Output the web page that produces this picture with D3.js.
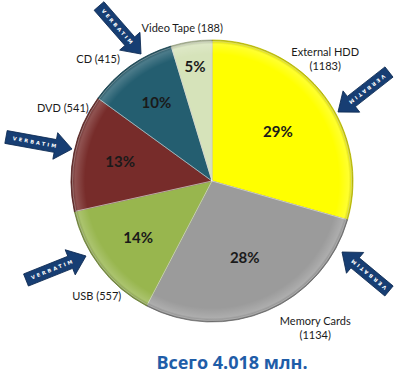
<!DOCTYPE html>
<html>
<head>
<meta charset="utf-8">
<script src="https://cdn.jsdelivr.net/npm/d3@7"></script>
<style>
  body { margin: 0; background: #fff; }
  svg { display: block; }
</style>
</head>
<body>
<svg id="chart"></svg>
<script>
// data (millions of units)
const categories = ["External HDD", "Memory Cards", "USB", "DVD", "CD", "Video Tape"];
const values = [1183, 1134, 557, 541, 415, 188];
const totalLabel = "Всего 4.018 млн.";
const colors = ["#ffff00", "#9b9b9b", "#98b64e", "#772c2a", "#245e70", "#d6e3ba"];

// where the outside labels sit: polar angle (deg, clockwise from top) and radius in px
const labelLayout = {
  "External HDD": { a: 43, r: 166, lines: ["External HDD", "(1183)"] },
  "Memory Cards": { a: 145, r: 180, lines: ["Memory Cards", "(1134)"] },
  "USB": { a: 225, r: 163, lines: ["USB (557)"] },
  "DVD": { a: 296, r: 166, lines: ["DVD (541)"] },
  "CD": { a: 317, r: 167, lines: ["CD (415)"] },
  "Video Tape": { a: 349, r: 156, lines: ["Video Tape (188)"] }
};

// decorative "VERBATIM" arrows, tail -> head
const arrows = [
  { x1: 99, y1: 6, x2: 141, y2: 54 },
  { x1: 389, y1: 72, x2: 338, y2: 112 },
  { x1: 6, y1: 137, x2: 72, y2: 149 },
  { x1: 26, y1: 280, x2: 86, y2: 256 },
  { x1: 389, y1: 291, x2: 342, y2: 252 }
];

const width = 400, height = 374;
const cx = 212, cy = 181, radius = 141;

const svg = d3.select("#chart")
  .attr("width", width)
  .attr("height", height);

const defs = svg.append("defs");

// soft bevel look: darker rim with a thin light band just inside it
const shine = defs.append("radialGradient")
  .attr("id", "shine")
  .attr("gradientUnits", "userSpaceOnUse")
  .attr("cx", cx).attr("cy", cy).attr("r", radius);
shine.append("stop").attr("offset", "0%").attr("stop-color", "#fff").attr("stop-opacity", 0);
shine.append("stop").attr("offset", "90%").attr("stop-color", "#fff").attr("stop-opacity", 0);
shine.append("stop").attr("offset", "97%").attr("stop-color", "#fff").attr("stop-opacity", 0.18);
shine.append("stop").attr("offset", "100%").attr("stop-color", "#000").attr("stop-opacity", 0.25);

const total = d3.sum(values);
const rows = categories.map((c, i) => ({ name: c, value: values[i], color: colors[i] }));

const pie = d3.pie()
  .sort(null)
  .value(d => d.value)
  .startAngle(0)
  .endAngle(2 * Math.PI);

const arc = d3.arc().innerRadius(0).outerRadius(radius);

const g = svg.append("g").attr("transform", `translate(${cx},${cy})`);
const arcs = pie(rows);

g.selectAll("path.slice")
  .data(arcs)
  .enter().append("path")
  .attr("class", "slice")
  .attr("d", arc)
  .attr("fill", d => d.data.color)
  .attr("stroke", d => d3.color(d.data.color).darker(0.8))
  .attr("stroke-width", 0.8);

// light bevel line along slice edges
g.selectAll("path.bevel")
  .data(arcs)
  .enter().append("path")
  .attr("class", "bevel")
  .attr("d", d3.arc().innerRadius(0).outerRadius(radius - 1.5))
  .attr("fill", "none")
  .attr("stroke", "#fff")
  .attr("stroke-opacity", 0.35)
  .attr("stroke-width", 1);

svg.append("circle")
  .attr("cx", cx).attr("cy", cy)
  .attr("r", radius)
  .attr("fill", "url(#shine)");

// percentage labels; small slices push their label further out
const labelRadius = d3.scaleLinear().domain([5, 10, 30]).range([0.82, 0.68, 0.58]);
g.selectAll("text.pct")
  .data(arcs)
  .enter().append("text")
  .attr("class", "pct")
  .each(function (d) {
    const pct = Math.round(d.value / total * 100);
    const mid = (d.startAngle + d.endAngle) / 2;
    const r = radius * labelRadius(pct);
    d3.select(this)
      .attr("x", Math.sin(mid) * r)
      .attr("y", -Math.cos(mid) * r)
      .text(pct + "%");
  })
  .attr("text-anchor", "middle")
  .attr("dy", "0.35em")
  .style("font-family", "Lato, 'Open Sans', sans-serif")
  .style("font-weight", "bold")
  .style("font-size", "15px")
  .style("fill", "#1a1a1a");

// category labels outside the pie
const outer = g.selectAll("text.cat")
  .data(arcs)
  .enter().append("text")
  .attr("class", "cat")
  .attr("text-anchor", "middle")
  .style("font-family", "Lato, 'Open Sans', sans-serif")
  .style("font-size", "11px")
  .style("fill", "#1a1a1a");

outer.each(function (d) {
  const lay = labelLayout[d.data.name];
  const a = lay.a * Math.PI / 180;
  const x = Math.sin(a) * lay.r, y = -Math.cos(a) * lay.r;
  const n = lay.lines.length;
  lay.lines.forEach((line, i) => {
    d3.select(this).append("tspan")
      .attr("x", x)
      .attr("y", y + (i - (n - 1) / 2) * 14)
      .attr("dy", "0.35em")
      .text(line);
  });
});

// arrows
const arrowG = svg.append("g");
arrows.forEach(a => {
  const len = Math.hypot(a.x2 - a.x1, a.y2 - a.y1);
  const ang = Math.atan2(a.y2 - a.y1, a.x2 - a.x1) * 180 / Math.PI;
  const headLen = 17, bodyW = 6.5, headW = 13.5;
  const p = d3.path();
  p.moveTo(0, -bodyW);
  p.lineTo(len - headLen, -bodyW);
  p.lineTo(len - headLen, -headW);
  p.lineTo(len, 0);
  p.lineTo(len - headLen, headW);
  p.lineTo(len - headLen, bodyW);
  p.lineTo(0, bodyW);
  p.closePath();
  const ag = arrowG.append("g")
    .attr("transform", `translate(${a.x1},${a.y1}) rotate(${ang})`);
  ag.append("path")
    .attr("d", p.toString())
    .attr("fill", "#173e73")
    .attr("stroke", "#0d2a52")
    .attr("stroke-width", 0.8);
  ag.append("text")
    .attr("x", (len - headLen) / 2 + 5)
    .attr("y", 0)
    .attr("dy", "0.35em")
    .attr("text-anchor", "middle")
    .style("font-family", "'DejaVu Sans', sans-serif")
    .style("font-size", "5px")
    .style("font-weight", "bold")
    .style("letter-spacing", "2.2px")
    .style("fill", "#fff")
    .text("VERBATIM");
});

// total caption
svg.append("text")
  .attr("x", 232)
  .attr("y", 369)
  .attr("text-anchor", "middle")
  .style("font-family", "'Open Sans', sans-serif")
  .style("font-weight", "bold")
  .style("font-size", "18px")
  .style("fill", "#1f5da8")
  .text(totalLabel);
</script>
</body>
</html>
